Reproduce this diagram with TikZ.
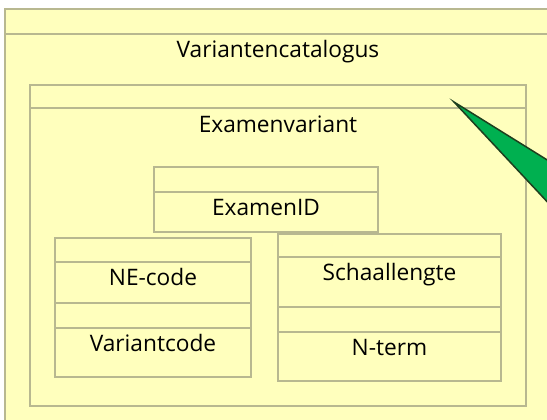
\documentclass[tikz,border=0pt]{standalone}
\usepackage{fontspec}
\setmainfont{Open Sans}
\usepackage{xcolor}
\definecolor{geel}{HTML}{FFFFBD}
\definecolor{rand}{HTML}{B8B890}
\definecolor{groen}{HTML}{00B050}
\definecolor{donkergroen}{HTML}{1E3F1E}
\tikzstyle{vak} = [draw=rand, rectangle, fill=geel, line width=1.6pt, outer sep=0pt, inner sep=0pt]
\tikzstyle{naam} = [anchor=base, inner sep=0pt, text=black, font=\fontsize{22.7}{26}\selectfont]
\tikzstyle{pijl} = [draw=donkergroen, fill=groen, line width=1.5pt, line join=miter]
\usetikzlibrary{positioning}

\begin{document}
\begin{tikzpicture}[x=1pt, y=1pt]
	\useasboundingbox (0,0) rectangle (547,420);
	\fill[white] (0,0) rectangle (547,420);
	\clip (0,0) rectangle (547,420);

	%catalogus
	\node[vak, minimum width=570, minimum height=25, anchor=north west] (catkop) at (5,411) {};
	\node[vak, minimum width=570, minimum height=400, below=0pt of catkop] (catromp) {};
	\node[naam] (catnaam) at (278,362) {Variantencatalogus};

	%examenvariant
	\node[vak, minimum width=496, minimum height=23, anchor=north west] (varkop) at (30,335) {};
	\node[vak, minimum width=496, minimum height=298, below=0pt of varkop] (varromp) {};
	\node[naam] (varnaam) at ([yshift=-25pt]varkop.south) {Examenvariant};

	%examenID
	\node[vak, minimum width=224, minimum height=25, anchor=north west] (idkop) at (154,253) {};
	\node[vak, minimum width=224, minimum height=40, below=0pt of idkop] (idromp) {};
	\node[naam] (idnaam) at ([yshift=-24pt]idkop.south) {ExamenID};

	%NE-code en variantcode
	\node[vak, minimum width=196, minimum height=24, anchor=north west] (nekop) at (55,182) {};
	\node[vak, minimum width=196, minimum height=41, below=0pt of nekop] (neromp) {};
	\node[vak, minimum width=196, minimum height=25, below=0pt of neromp] (vckop) {};
	\node[vak, minimum width=196, minimum height=49, below=0pt of vckop] (vcromp) {};
	\node[naam] (nenaam) at ([yshift=-24pt]nekop.south) {NE-code};
	\node[naam] (vcnaam) at ([yshift=-24pt]vckop.south) {Variantcode};

	%schaallengte en N-term
	\node[vak, minimum width=223, minimum height=23, anchor=north west] (slkop) at (278,186) {};
	\node[vak, minimum width=223, minimum height=50, below=0pt of slkop] (slromp) {};
	\node[vak, minimum width=223, minimum height=25, below=0pt of slromp] (ntkop) {};
	\node[vak, minimum width=223, minimum height=49, below=0pt of ntkop] (ntromp) {};
	\node[naam] (slnaam) at ([yshift=-24pt]slkop.south) {Schaallengte};
	\node[naam] (ntnaam) at ([yshift=-24pt]ntkop.south) {N-term};

	%pijl
	\coordinate (punt) at (454,318);
	\draw[pijl] (punt) -- (610,221) -- (610,151) -- cycle;
\end{tikzpicture}
\end{document}
